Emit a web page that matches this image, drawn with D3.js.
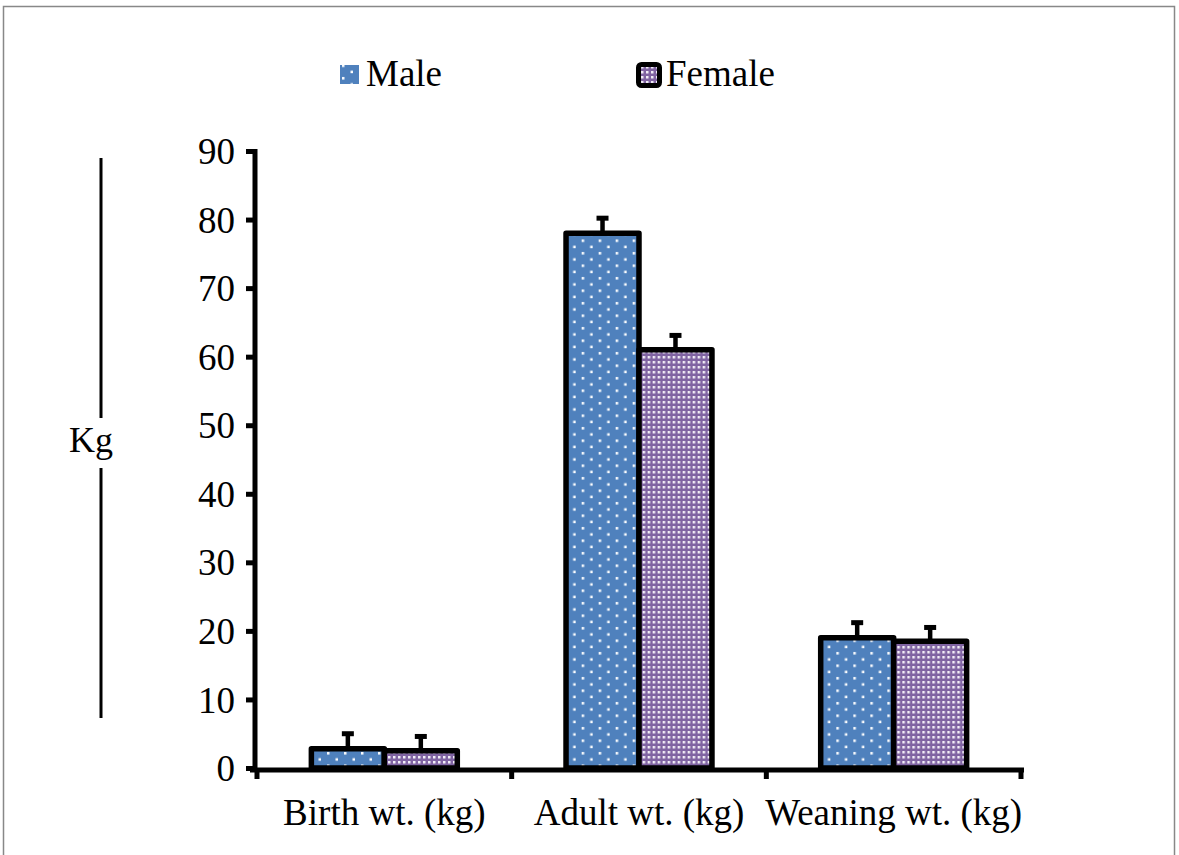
<!DOCTYPE html>
<html><head><meta charset="utf-8">
<script src="https://cdn.jsdelivr.net/npm/d3@7"></script>
<style>body{margin:0;background:#fff;} svg{display:block;} text{font-family:"Liberation Serif","Times New Roman",serif;}</style>
</head><body>
<svg id="c" width="1179" height="855"></svg>
<script>
const categories = ["Birth wt. (kg)", "Adult wt. (kg)", "Weaning wt. (kg)"];
const seriesNames = ["Male", "Female"];
const maleValues = [2.8, 78, 19];
const femaleValues = [2.5, 61, 18.5];
const maleErrors = [2.2, 2.2, 2.2];
const femaleErrors = [2.1, 2.1, 2.0];
const yTicks = [0, 10, 20, 30, 40, 50, 60, 70, 80, 90];
const yTitle = "Kg";

const svg = d3.select("#c");
const defs = svg.append("defs");
const pm = defs.append("pattern").attr("id","pm").attr("patternUnits","userSpaceOnUse").attr("width",17).attr("height",12.5);
pm.append("rect").attr("width",17).attr("height",12.5).attr("fill","#4F81BD");
pm.append("rect").attr("x",2).attr("y",2).attr("width",2.5).attr("height",2.5).attr("fill","#fff");
pm.append("rect").attr("x",10.5).attr("y",8.2).attr("width",2.5).attr("height",2.5).attr("fill","#fff");
const pf = defs.append("pattern").attr("id","pf").attr("patternUnits","userSpaceOnUse").attr("width",5).attr("height",5);
pf.append("rect").attr("width",5).attr("height",5).attr("fill","#8064A2");
pf.append("rect").attr("x",1).attr("y",1).attr("width",2.5).attr("height",2.5).attr("fill","#f2eef7");

svg.append("rect").attr("x",3.5).attr("y",6.5).attr("width",1171).attr("height",860)
  .attr("fill","none").attr("stroke","#888").attr("stroke-width",1.5);

const x0 = d3.scaleBand().domain(categories).range([257, 1021]).paddingInner(0).paddingOuter(0);
const x1 = d3.scaleBand().domain(seriesNames).range([0, x0.bandwidth()]).paddingOuter(0.745).paddingInner(0);
const y = d3.scaleLinear().domain([0, 90]).range([768, 151]);

const data = categories.map((c,i)=>({cat:c, vals:[
  {s:"Male", v:maleValues[i], e:maleErrors[i], fill:"url(#pm)"},
  {s:"Female", v:femaleValues[i], e:femaleErrors[i], fill:"url(#pf)"}]}));

const g = svg.append("g");
const groups = g.selectAll("g.grp").data(data).join("g").attr("transform", d=>`translate(${x0(d.cat)},0)`);
groups.selectAll("g.err").data(d=>d.vals).join("g").each(function(d){
  const cx = x1(d.s) + x1.bandwidth()/2;
  const gg = d3.select(this);
  gg.append("line").attr("x1",cx).attr("x2",cx).attr("y1",y(d.v)).attr("y2",y(d.v+d.e)).attr("stroke","#000").attr("stroke-width",4.5);
  gg.append("line").attr("x1",cx-6).attr("x2",cx+6).attr("y1",y(d.v+d.e)).attr("y2",y(d.v+d.e)).attr("stroke","#000").attr("stroke-width",5);
});
groups.selectAll("rect.bar").data(d=>d.vals).join("rect").attr("class","bar")
  .attr("x", d=>x1(d.s)).attr("width", x1.bandwidth())
  .attr("y", d=>y(d.v)).attr("height", d=>y(0)-y(d.v))
  .attr("fill", d=>d.fill).attr("stroke","#000").attr("stroke-width",5.5).attr("stroke-linejoin","round");

const yAxis = d3.axisLeft(y).tickValues(yTicks).tickSize(9).tickPadding(11);
const ya = svg.append("g").attr("transform","translate(255,0)").call(yAxis);
ya.select(".domain").attr("stroke","#000").attr("stroke-width",5).attr("d","M0,149V771");
ya.selectAll(".tick line").attr("stroke","#000").attr("stroke-width",5);
ya.selectAll(".tick text").attr("font-size",37).attr("fill","#000").attr("font-family","Liberation Serif").attr("dy","0.34em");

const xAxis = d3.axisBottom(x0).tickSize(0).tickPadding(29);
const xa = svg.append("g").attr("transform","translate(0,770)").call(xAxis);
xa.select(".domain").remove();
xa.append("line").attr("x1",250).attr("x2",1024).attr("y1",0).attr("y2",0).attr("stroke","#000").attr("stroke-width",5);
xa.selectAll(".tick text").attr("font-size",37).attr("fill","#000").attr("font-family","Liberation Serif").attr("dy","0.71em");
const bounds = [257, ...categories.map(c=>x0(c)+x0.bandwidth())];
xa.selectAll("line.tk").data(bounds).join("line").attr("class","tk")
  .attr("x1",d=>d).attr("x2",d=>d).attr("y1",0).attr("y2",9).attr("stroke","#000").attr("stroke-width",5);

svg.append("text").attr("x",91).attr("y",452).attr("text-anchor","middle").attr("font-size",36).text(yTitle);
svg.append("line").attr("x1",101).attr("x2",101).attr("y1",158).attr("y2",418).attr("stroke","#000").attr("stroke-width",3);
svg.append("line").attr("x1",101).attr("x2",101).attr("y1",468).attr("y2",718).attr("stroke","#000").attr("stroke-width",3);

const legend = svg.append("g");
legend.append("rect").attr("x",340).attr("y",65).attr("width",19).attr("height",19).attr("fill","url(#pm)");
legend.append("text").attr("x",366).attr("y",86).attr("font-size",37).text(seriesNames[0]);
legend.append("rect").attr("x",638.5).attr("y",64.5).attr("width",21).attr("height",21).attr("rx",3).attr("fill","url(#pf)").attr("stroke","#000").attr("stroke-width",5);
legend.append("text").attr("x",666).attr("y",86).attr("font-size",37).text(seriesNames[1]);
</script>
</body></html>
